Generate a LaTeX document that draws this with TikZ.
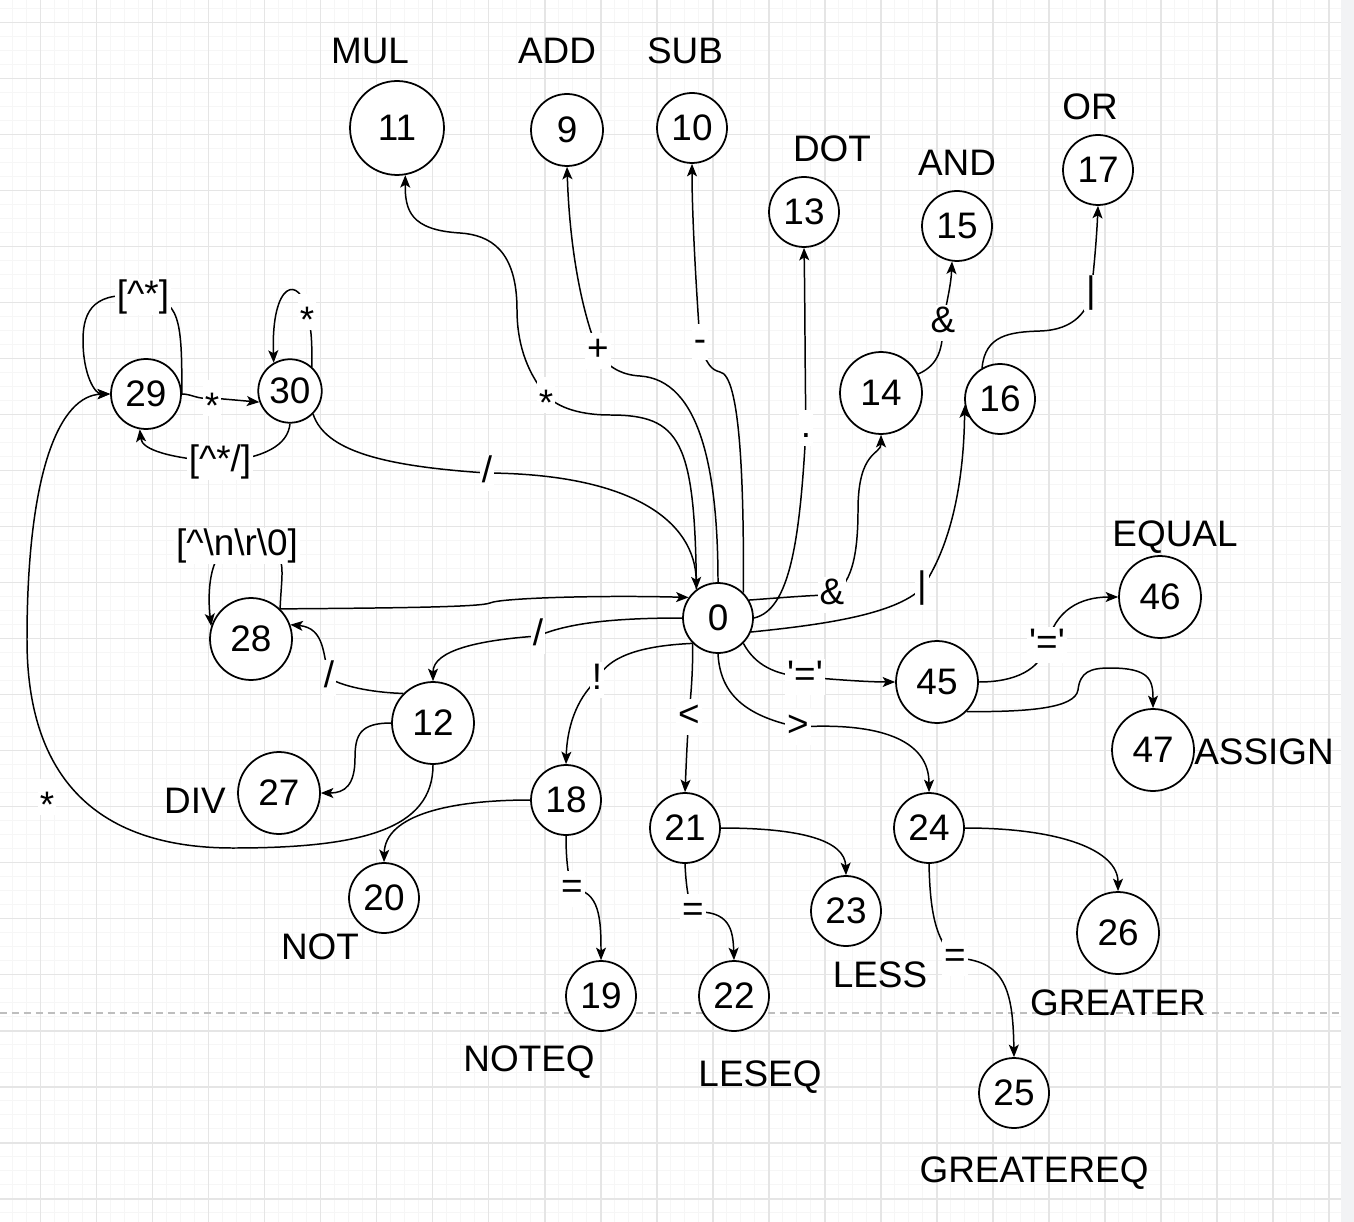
\documentclass[tikz,border=0pt]{standalone}
\usepackage{fontspec}
\setmainfont{Liberation Sans}
\usetikzlibrary{arrows.meta}
\definecolor{gridmajor}{RGB}{229,229,229}
\definecolor{gridminor}{RGB}{246,246,246}
\definecolor{pagebreak}{RGB}{190,190,190}
\definecolor{sidebar}{RGB}{242,243,245}
\pgfdeclarelayer{canvas}
\pgfdeclarelayer{wires}
\pgfsetlayers{canvas,wires,main}
\newcommand{\lowstar}{\raisebox{-6pt}{*}}
\begin{document}
\begin{tikzpicture}[x=0.02cm,y=-0.02cm,
    font=\fontsize{21}{25}\selectfont,
    state/.style={circle,draw,line width=1pt,fill=white,inner sep=0pt,minimum size=1.4cm},
    wide/.style={state,minimum size=1.64cm},
    token/.style={inner sep=0pt,text height=15pt,text depth=0pt},
    lbl/.style={fill=white,inner sep=1pt,text height=15pt,text depth=4pt},
    edge/.style={line width=0.85pt,-{Stealth[length=0.25cm,width=0.2cm,inset=0.06cm]}}]

% canvas: grid and page break
\begin{pgfonlayer}{canvas}
  \useasboundingbox (0,0) rectangle (1354,1222);
  \fill[white] (0,0) rectangle (1354,1222);
  \foreach \x in {12.7,26.7,...,1340} \draw[gridminor,line width=0.5pt] (\x,0) -- (\x,1222);
  \foreach \y in {8.7,22.7,...,1222} \draw[gridminor,line width=0.5pt] (0,\y) -- (1341,\y);
  \foreach \x in {40.7,96.7,...,1340} \draw[gridmajor,line width=0.9pt] (\x,0) -- (\x,1222);
  \foreach \y in {22.7,78.7,...,1222} \draw[gridmajor,line width=0.9pt] (0,\y) -- (1341,\y);
  \fill[sidebar] (1341,0) rectangle (1354,1222);
  \draw[pagebreak,line width=1.1pt,dash pattern=on 0.14cm off 0.1cm] (0,1013) -- (1341,1013); % page break
\end{pgfonlayer}

% states
\node[state] (q0) at (718,618) {0};
\node[state,minimum size=1.44cm] (q9) at (567,130) {9};
\node[state] (q10) at (692,128) {10};
\node[state,minimum size=1.88cm] (q11) at (397,128) {11};
\node[wide] (q12) at (433,723) {12};
\node[state] (q13) at (804,212) {13};
\node[wide] (q14) at (881,393) {14};
\node[state] (q15) at (957,226) {15};
\node[state] (q16) at (1000,399) {16};
\node[state] (q17) at (1098,170) {17};
\node[state] (q18) at (566,800) {18};
\node[state] (q19) at (601,996) {19};
\node[state] (q20) at (384,898) {20};
\node[state] (q21) at (685,828) {21};
\node[state] (q22) at (734,996) {22};
\node[state] (q23) at (846,911) {23};
\node[state] (q24) at (929,828) {24};
\node[state] (q25) at (1014,1093) {25};
\node[wide] (q26) at (1118,933) {26};
\node[wide] (q27) at (279,793) {27};
\node[wide] (q28) at (251,639) {28};
\node[state] (q29) at (146,394) {29};
\node[state,minimum size=1.27cm] (q30) at (290,391) {30};
\node[wide] (q45) at (937,682) {45};
\node[wide] (q46) at (1160,597) {46};
\node[wide] (q47) at (1153,750) {47};

% tokens
\node[token] (tmul) at (370,50) {MUL};
\node[token] (tadd) at (557,50) {ADD};
\node[token] (tsub) at (685,50) {SUB};
\node[token] (tdot) at (832,148) {DOT};
\node[token] (tand) at (957,162) {AND};
\node[token] (tor) at (1090,106) {OR};
\node[token] (tequal) at (1175,533) {EQUAL};
\node[token] (tassign) at (1264,751) {ASSIGN};
\node[token] (tdiv) at (195,800) {DIV};
\node[token] (tnot) at (320,946) {NOT};
\node[token] (tnoteq) at (529,1058) {NOTEQ};
\node[token] (tleseq) at (760,1073) {LESEQ};
\node[token] (tless) at (880,974) {LESS};
\node[token] (tgreater) at (1118,1002) {GREATER};
\node[token] (tgreatereq) at (1034,1169) {GREATEREQ};

% edge labels
\node[lbl] (e30to0) at (487,473) {/};
\node[lbl] (e0to11) at (546,395) {\lowstar};
\node[lbl] (e0to9) at (598,351) {+};
\node[lbl] (e0to10) at (700,342) {-};
\node[lbl] (e0to13) at (806,428) {.};
\node[lbl] (e0to14) at (832,595) {\&};
\node[lbl] (e0to16) at (922,588) {|};
\node[lbl] (e14to15) at (943,323) {\&};
\node[lbl] (e16to17) at (1091,293) {|};
\node[lbl] (e0to45) at (805,677) {\textquotesingle=\textquotesingle};
\node[lbl] (e45to46) at (1047,645) {\textquotesingle=\textquotesingle};
\node[lbl] (e0to24) at (798,727) {>};
\node[lbl] (e0to21) at (689,717) {<};
\node[lbl] (e0to18) at (597,680) {!};
\node[lbl] (e0to12) at (538,636) {/};
\node[lbl] (e12to28) at (329,678) {/};
\node[lbl] (e28loop) at (237,546) {[\textasciicircum\textbackslash n\textbackslash r\textbackslash 0]};
\node[lbl] (e12to29) at (47,797) {\lowstar};
\node[lbl] (e29loop) at (143,297) {[\textasciicircum*]};
\node[lbl] (e29to30) at (212,398) {\lowstar};
\node[lbl] (e30loop) at (307,312) {\lowstar};
\node[lbl] (e30to29) at (220,462) {[\textasciicircum*/]};
\node[lbl] (e18to19) at (572,889) {=};
\node[lbl] (e21to22) at (693,912) {=};
\node[lbl] (e24to25) at (955,958) {=};

% transitions
\begin{pgfonlayer}{wires}
  \draw[edge] (q30.-45) .. controls (325,450) and (380,466) .. (e30to0.center) .. controls (630,474) and (695,520) .. (q0.127); % comment end
  \draw[edge] (q0.127) .. controls (695,440) and (680,415) .. (610,415) .. controls (575,415) and (555,405) .. (e0to11.center) .. controls (525,370) and (517,340) .. (517,310) .. controls (517,250) and (490,235) .. (460,233) .. controls (410,230) and (405,210) .. (q11.-80); % MUL
  \draw[edge] (q0.north) .. controls (718,470) and (700,380) .. (640,376) .. controls (620,375) and (605,365) .. (e0to9.center) .. controls (585,320) and (570,260) .. (q9.south); % ADD
  \draw[edge] (q0.45) .. controls (744,480) and (740,375) .. (720,372) .. controls (712,370) and (706,365) .. (e0to10.center) .. controls (697,300) and (692,220) .. (q10.south); % SUB
  \draw[edge] (q0.east) .. controls (790,610) and (800,540) .. (e0to13.center) .. controls (805,380) and (805,300) .. (q13.south); % DOT
  \draw[edge] (q0.30) .. controls (790,597) and (815,595) .. (e0to14.center) .. controls (850,585) and (858,560) .. (858,510) .. controls (858,450) and (881,455) .. (q14.south);
  \draw[edge] (q0.-23) .. controls (820,625) and (895,615) .. (e0to16.center) .. controls (955,540) and (964,470) .. (q16.190);
  \draw[edge] (q14.27) .. controls (938,365) and (943,350) .. (e14to15.center) .. controls (947,300) and (951,285) .. (q15.-98); % AND
  \draw[edge] (q16.120) .. controls (985,335) and (1010,332) .. (1040,331) .. controls (1075,330) and (1088,310) .. (e16to17.center) .. controls (1095,260) and (1097,230) .. (q17.south); % OR
  \draw[edge] (q0.-45) .. controls (755,665) and (775,675) .. (e0to45.center) .. controls (840,680) and (870,682) .. (q45.west);
  \draw[edge] (q45.east) .. controls (1015,682) and (1040,670) .. (e45to46.center) .. controls (1055,610) and (1080,597) .. (q46.west); % EQUAL
  \draw[edge] (q45.-45) .. controls (1030,712) and (1075,708) .. (1078,690) .. controls (1080,672) and (1090,668) .. (1110,668) .. controls (1150,668) and (1153,680) .. (q47.north); % ASSIGN
  \draw[edge] (q0.south) .. controls (720,690) and (740,715) .. (e0to24.center) .. controls (880,722) and (929,740) .. (q24.north);
  \draw[edge] (q0.-135) .. controls (693,680) and (690,700) .. (e0to21.center) .. controls (687,740) and (686,770) .. (q21.north);
  \draw[edge] (q0.-135) .. controls (660,645) and (610,650) .. (e0to18.center) .. controls (575,700) and (567,730) .. (q18.north);
  \draw[edge] (q0.west) .. controls (620,618) and (570,622) .. (e0to12.center) .. controls (480,640) and (433,650) .. (q12.north);
  \draw[edge] (q12.135) .. controls (380,693) and (345,688) .. (e12to28.center) .. controls (323,655) and (325,628) .. (q28.20);
  \draw[edge] (q28.46) .. controls (282,560) and (292,545) .. (e28loop.center) .. controls (210,545) and (207,590) .. (q28.162);
  \draw[edge] (q28.46) .. controls (400,608) and (480,607) .. (490,603) .. controls (500,598) and (600,595) .. (q0.145);
  \draw[edge] (q12.west) .. controls (360,723) and (355,735) .. (355,758) .. controls (355,785) and (345,793) .. (q27.east); % DIV
  \draw[edge] (q12.south) .. controls (433,830) and (360,848) .. (233,848) .. controls (80,848) and (27,760) .. (27,640) .. controls (27,470) and (60,395) .. (q29.west);
  \draw[edge] (q29.east) .. controls (182,320) and (180,298) .. (e29loop.center) .. controls (95,290) and (83,310) .. (83,340) .. controls (83,375) and (95,394) .. (q29.west);
  \draw[edge] (q29.east) .. controls (192,394) and (198,400) .. (e29to30.center) -- (q30.-160);
  \draw[edge] (q30.48) .. controls (312,345) and (312,330) .. (e30loop.center) .. controls (300,275) and (271,280) .. (q30.120);
  \draw[edge] (q30.south) .. controls (288,445) and (265,458) .. (e30to29.center) .. controls (170,458) and (142,450) .. (q29.-100);
  \draw[edge] (q18.west) .. controls (450,800) and (385,815) .. (q20.north); % NOT
  \draw[edge] (q18.south) .. controls (566,860) and (568,875) .. (e18to19.center) .. controls (600,890) and (601,920) .. (q19.north); % NOTEQ
  \draw[edge] (q21.south) .. controls (686,885) and (688,900) .. (e21to22.center) .. controls (730,910) and (733,930) .. (q22.north); % LESEQ
  \draw[edge] (q21.east) .. controls (800,828) and (845,840) .. (q23.north); % LESS
  \draw[edge] (q24.east) .. controls (1060,828) and (1118,850) .. (q26.north); % GREATER
  \draw[edge] (q24.south) .. controls (930,910) and (935,940) .. (e24to25.center) .. controls (1005,960) and (1013,990) .. (q25.north); % GREATEREQ
\end{pgfonlayer}
\end{tikzpicture}
\end{document}
